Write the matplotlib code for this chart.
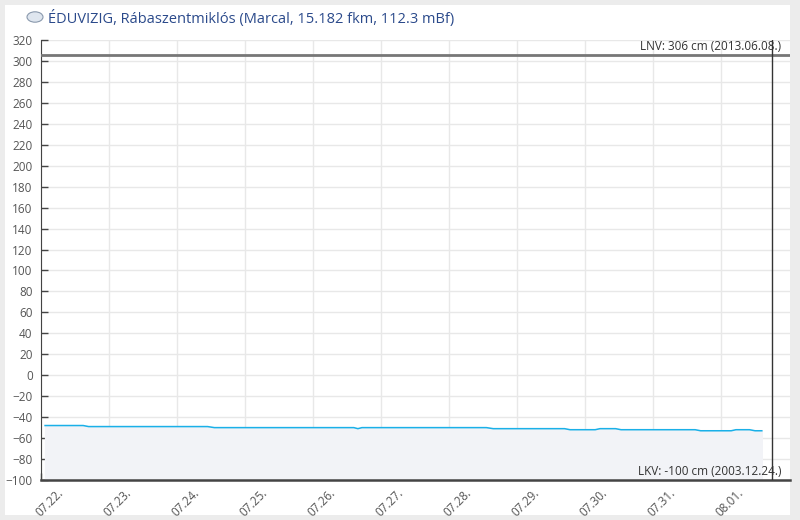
import numpy as np
import matplotlib.pyplot as plt
import matplotlib.transforms as mtransforms
from matplotlib.patches import Rectangle, Circle

plt.rcParams['font.family'] = ['Open Sans', 'DejaVu Sans']

# water level (cm), time in days since 07.22. 00:00
times = [0.06, 0.62, 0.70, 2.45, 2.55, 4.60, 4.66, 4.72, 6.55, 6.65, 7.70, 7.78,
         8.15, 8.22, 8.45, 8.53, 9.62, 9.70, 10.15, 10.22, 10.42, 10.50, 10.60]
levels = [-48, -48, -49, -49, -50, -50, -51, -50, -50, -51, -51, -52,
          -52, -51, -51, -52, -52, -53, -53, -52, -52, -53, -53]
day_labels = ['07.22.', '07.23.', '07.24.', '07.25.', '07.26.', '07.27.',
              '07.28.', '07.29.', '07.30.', '07.31.', '08.01.']
lnv = 306
lkv = -100
now_line = 10.75
title = 'ÉDUVIZIG, Rábaszentmiklós (Marcal, 15.182 fkm, 112.3 mBf)'

fig = plt.figure(figsize=(8, 5.2), dpi=100)
fig.patch.set_facecolor('#ececec')
fig.patches.append(Rectangle((5/800, 5/520), 785/800, 510/520, transform=fig.transFigure,
                             facecolor='white', edgecolor='none', zorder=-10))

ax = fig.add_axes([41/800, 40/520, 749/800, 440/520])
ax.set_facecolor('none')

ax.fill_between(times, levels, lkv, color='#f2f3f7', zorder=1)
ax.plot(times, levels, color='#1ab0e8', lw=1.1, zorder=3)
ax.axhline(lnv, color='#777777', lw=2, zorder=4)
ax.axvline(now_line, color='#333333', lw=1, zorder=4)

ax.set_xlim(0, 749/68)
ax.set_ylim(-100, 320)
ax.set_yticks(np.arange(-100, 321, 20))
ax.set_xticks(range(len(day_labels)))
ax.set_xticklabels([])

# rotated day labels, shifted right of the tick like the original
offset = mtransforms.ScaledTranslation(0.20, -0.11, fig.dpi_scale_trans)
for i, lab in enumerate(day_labels):
    ax.text(i, 0, lab, transform=ax.get_xaxis_transform() + offset, rotation=45,
            ha='right', va='center', rotation_mode='anchor', fontsize=8.5, color='#555555',
            clip_on=False)

ax.grid(True, color='#e8e8e8', lw=1)
ax.set_axisbelow(True)
ax.tick_params(direction='in', length=5, width=1, colors='#444444', labelcolor='#555555',
               labelsize=8.5)
ax.tick_params(axis='y', pad=6)
for s in ['top', 'right']:
    ax.spines[s].set_visible(False)
ax.spines['left'].set_color('#444444')
ax.spines['bottom'].set_color('#444444')
ax.spines['bottom'].set_linewidth(1.8)

ax.text(0.988, lnv + 2, 'LNV: %d cm (2013.06.08.)' % lnv, transform=ax.get_yaxis_transform(),
        ha='right', va='bottom', fontsize=8.5, color='#333333', zorder=5)
ax.text(0.988, lkv + 2, 'LKV: %d cm (2003.12.24.)' % lkv, transform=ax.get_yaxis_transform(),
        ha='right', va='bottom', fontsize=8.5, color='#333333', zorder=5)

fig.patches.append(Circle((35/800, 1 - 17/520), 8/800, transform=fig.transFigure,
                          facecolor='#dfe6ef', edgecolor='#8a99ad', lw=0.8))
fig.text(48/800, 1 - 19/520, title, fontsize=10.5, color='#2b4a8b', va='center', ha='left')

fig.savefig('out.png', dpi=100, facecolor=fig.get_facecolor())
